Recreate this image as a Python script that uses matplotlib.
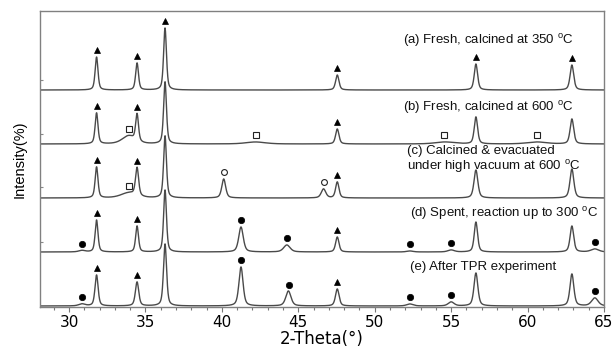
import numpy as np
import matplotlib
matplotlib.use("Agg")
import matplotlib.pyplot as plt
from matplotlib.ticker import MultipleLocator

plt.rcParams["mathtext.fontset"] = "custom"
plt.rcParams["mathtext.rm"] = "Liberation Sans"

# ---------------- data ----------------
sample_labels = [
    "(a) Fresh, calcined at 350 $^{\\rm o}$C",
    "(b) Fresh, calcined at 600 $^{\\rm o}$C",
    "(c) Calcined & evacuated\nunder high vacuum at 600 $^{\\rm o}$C",
    "(d) Spent, reaction up to 300 $^{\\rm o}$C",
    "(e) After TPR experiment",
]

# peak positions (2-theta, deg), heights (a.u.) and widths (FWHM, deg)
pos_a = [31.8, 34.45, 36.28, 47.55, 56.62, 62.9]
hgt_a = [33, 27, 62, 15, 26, 25]
wid_a = [0.22, 0.22, 0.22, 0.26, 0.26, 0.28]

pos_b = [31.8, 33.9, 34.45, 36.28, 42.2, 47.55, 54.6, 56.62, 60.6, 62.9]
hgt_b = [31, 8, 27, 62, 2, 15, 2, 27, 2, 25]
wid_b = [0.22, 1.0, 0.22, 0.22, 1.5, 0.26, 1.5, 0.26, 1.5, 0.28]

pos_c = [31.8, 33.9, 34.45, 36.28, 40.12, 46.65, 47.55, 56.62, 62.9]
hgt_c = [31, 5, 28, 62, 19, 9, 16, 28, 29]
wid_c = [0.22, 1.2, 0.24, 0.22, 0.3, 0.35, 0.26, 0.3, 0.3]

pos_d = [30.85, 31.8, 34.45, 36.28, 41.25, 44.25, 47.55, 52.3, 55.0, 56.62, 62.9, 64.4]
hgt_d = [1.5, 32, 26, 62, 25, 7, 15, 1, 2, 30, 26, 3]
wid_d = [0.5, 0.22, 0.22, 0.22, 0.35, 0.5, 0.26, 0.5, 0.5, 0.26, 0.28, 0.6]

pos_e = [30.85, 31.8, 34.45, 36.28, 41.25, 44.35, 47.55, 52.3, 55.0, 56.62, 62.9, 64.4]
hgt_e = [2, 31, 24, 62, 39, 15, 17, 2, 4, 33, 32, 8]
wid_e = [0.5, 0.24, 0.26, 0.24, 0.32, 0.4, 0.28, 0.5, 0.45, 0.3, 0.3, 0.5]

# phase markers (2-theta positions)
tri_a = [31.8, 34.45, 36.28, 47.55, 56.62, 62.9]
tri_b = [31.8, 34.45, 47.55]
sq_b = [33.9, 42.2, 54.5, 60.6]
tri_c = [31.8, 34.45, 47.55]
sq_c = [33.9]
oc_c = [40.12, 46.65]
tri_d = [31.8, 34.45, 47.55]
dot_d = [30.85, 41.25, 44.25, 52.3, 55.0, 64.4]
tri_e = [31.8, 34.45, 47.55]
dot_e = [30.85, 41.25, 44.4, 52.3, 55.0, 64.4]

x_ticks = [30, 35, 40, 45, 50, 55, 60, 65]

# ---------------- layout ----------------
offsets = [217, 163, 109, 55, 1]
label_xy = [(51.85, 266), (51.85, 200), (52.1, 147), (52.3, 94), (52.3, 40)]
gap = 6.5

def profile(x, c, h, w):
    L = 1.0 / (1.0 + ((x - c) / (w / 2.0)) ** 2)
    G = np.exp(-4 * np.log(2) * ((x - c) / w) ** 2)
    return h * (0.5 * L + 0.5 * G)

tt = np.arange(28.1, 65.0001, 0.01)

def pattern(pos, hgt, wid):
    y = np.zeros_like(tt)
    for c, h, w in zip(pos, hgt, wid):
        y += profile(tt, c, h, w)
    return y

fig = plt.figure(figsize=(6.14, 3.48), dpi=100)
ax = fig.add_axes([40 / 614, 41 / 348, 564 / 614, 296 / 348])

samples = [(pos_a, hgt_a, wid_a), (pos_b, hgt_b, wid_b), (pos_c, hgt_c, wid_c),
           (pos_d, hgt_d, wid_d), (pos_e, hgt_e, wid_e)]
markers = [
    {"tri": tri_a},
    {"tri": tri_b, "sq": sq_b},
    {"tri": tri_c, "sq": sq_c, "oc": oc_c},
    {"tri": tri_d, "dot": dot_d},
    {"tri": tri_e, "dot": dot_e},
]
mstyle = {
    "tri": dict(marker="^", ms=4.6, mfc="black", mec="black", mew=0.5),
    "dot": dict(marker="o", ms=4.6, mfc="black", mec="black", mew=0.5),
    "sq": dict(marker="s", ms=4.6, mfc="white", mec="#222222", mew=0.8),
    "oc": dict(marker="o", ms=4.2, mfc="white", mec="#222222", mew=0.8),
}

for (pos, hgt, wid), off, mk, lab, (lx, ly) in zip(samples, offsets, markers, sample_labels, label_xy):
    y = pattern(pos, hgt, wid) + off
    ax.plot(tt, y, color="#4a4a4a", lw=1.0, zorder=2)
    for kind, xs in mk.items():
        xs = np.array(xs)
        ys = np.interp(xs, tt, y) + gap
        ax.plot(xs, ys, ls="none", zorder=3, **mstyle[kind])
    ax.text(lx, ly, lab, ha="left", va="center", fontsize=9.5,
            family=["Liberation Sans", "DejaVu Sans"], color="#111111", linespacing=1.05)

ax.set_xlim(28.1, 65.0)
ax.set_ylim(0, 296)
ax.set_xticks(x_ticks)
ax.xaxis.set_minor_locator(MultipleLocator(1))
ax.set_yticks([65, 120, 173, 227])
ax.set_yticklabels([])
ax.tick_params(axis="y", direction="in", length=2.5, color="#888888")
ax.tick_params(axis="x", which="major", direction="out", length=3.5, width=0.8,
               color="#777777", labelsize=11, pad=2)
ax.tick_params(axis="x", which="minor", direction="out", length=2.5, width=0.8, color="#777777")
for lbl in ax.get_xticklabels():
    lbl.set_family("DejaVu Sans")
for sp in ax.spines.values():
    sp.set_color("#808080")
    sp.set_linewidth(1.0)

ax.set_xlabel("2-Theta(°)", fontsize=12, family="DejaVu Sans", labelpad=0)
ax.set_ylabel("Intensity(%)", fontsize=10.5, family="Liberation Sans", labelpad=6)

fig.savefig("out.png", dpi=100)
